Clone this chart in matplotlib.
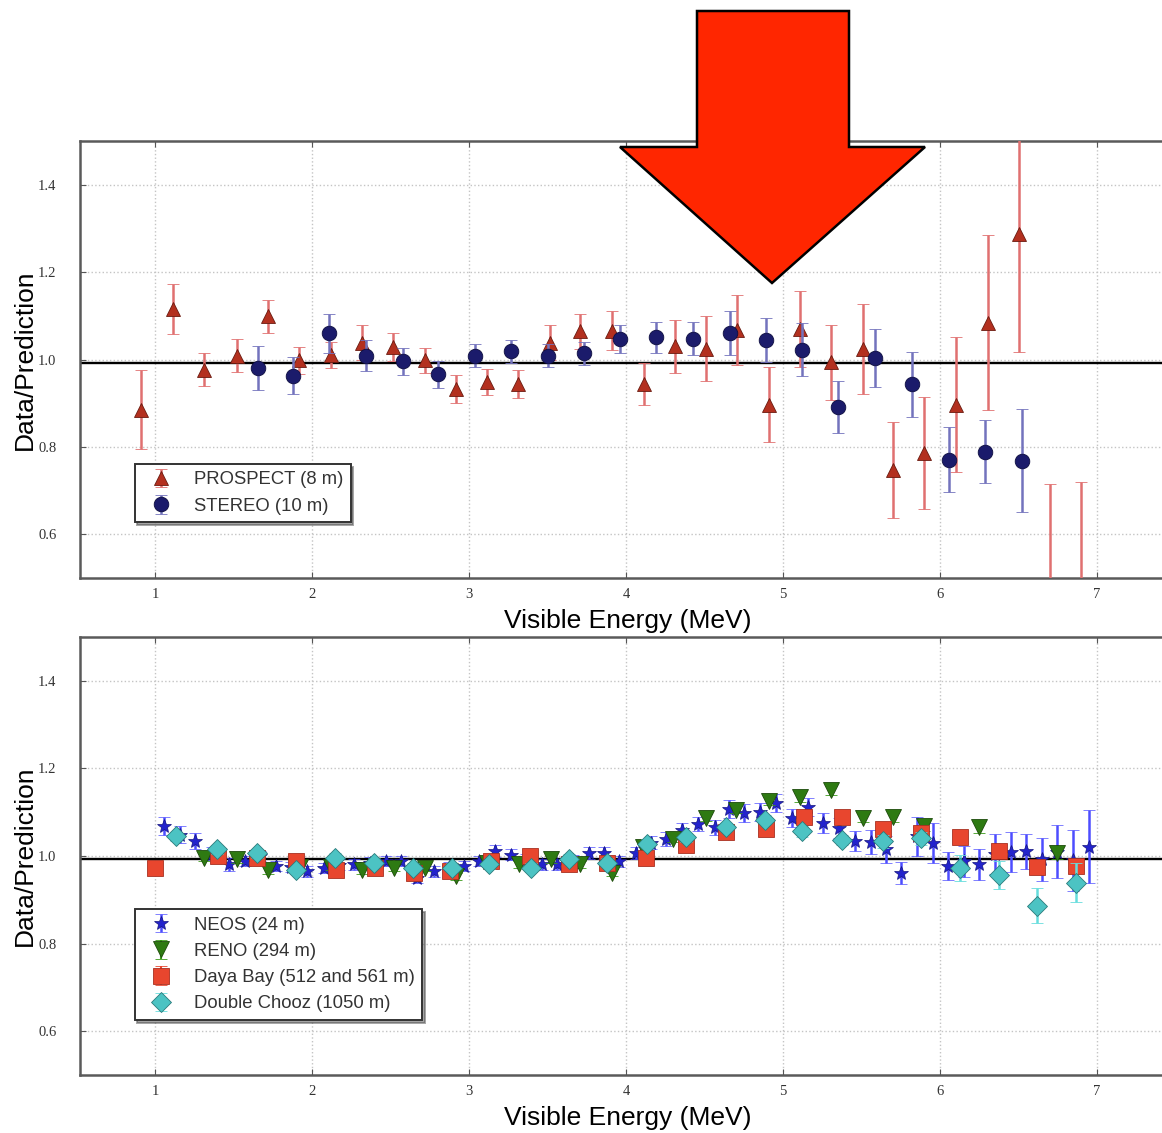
import matplotlib
matplotlib.use("Agg")
import matplotlib.pyplot as plt
from matplotlib import font_manager
from matplotlib.patches import Polygon

# --- reactor spectrum ratios, short baseline (top panel) ---
prospect_e = [0.91, 1.11, 1.31, 1.52, 1.72, 1.915, 2.12, 2.315, 2.517, 2.72,
              2.915, 3.116, 3.314, 3.514, 3.71, 3.91, 4.115, 4.311, 4.513, 4.71,
              4.91, 5.11, 5.306, 5.508, 5.705, 5.90, 6.103, 6.305, 6.507, 6.70, 6.90]
prospect_r = [0.885, 1.115, 0.977, 1.009, 1.099, 0.998, 1.011, 1.038, 1.029, 0.998,
              0.933, 0.948, 0.944, 1.038, 1.065, 1.066, 0.944, 1.030, 1.025, 1.067,
              0.897, 1.070, 0.994, 1.025, 0.748, 0.786, 0.897, 1.084, 1.288, 0.43, 0.42]
prospect_err = [0.09, 0.057, 0.037, 0.037, 0.038, 0.031, 0.03, 0.04, 0.032, 0.028,
                0.032, 0.03, 0.032, 0.04, 0.04, 0.044, 0.047, 0.06, 0.075, 0.08,
                0.085, 0.086, 0.086, 0.103, 0.11, 0.128, 0.155, 0.2, 0.27, 0.285, 0.30]

stereo_e = [1.654, 1.877, 2.107, 2.34, 2.578, 2.80, 3.035, 3.27, 3.50, 3.73,
            3.96, 4.19, 4.428, 4.662, 4.89, 5.125, 5.35, 5.59, 5.82, 6.056, 6.29, 6.524]
stereo_r = [0.981, 0.963, 1.060, 1.009, 0.996, 0.966, 1.009, 1.019, 1.009, 1.014,
            1.048, 1.051, 1.048, 1.060, 1.044, 1.023, 0.891, 1.004, 0.943, 0.771, 0.789, 0.769]
stereo_err = [0.05, 0.042, 0.044, 0.035, 0.031, 0.03, 0.026, 0.026, 0.026, 0.027,
              0.032, 0.035, 0.037, 0.05, 0.05, 0.06, 0.06, 0.066, 0.075, 0.075, 0.072, 0.118]

# --- longer baselines (bottom panel) ---
neos_e = [1.054, 1.16, 1.256, 1.36, 1.47, 1.575, 1.67, 1.767, 1.868, 1.968,
          2.075, 2.17, 2.266, 2.37, 2.468, 2.564, 2.67, 2.776, 2.87, 2.967,
          3.063, 3.165, 3.265, 3.36, 3.467, 3.563, 3.66, 3.765, 3.86, 3.956,
          4.062, 4.16, 4.258, 4.36, 4.462, 4.568, 4.657, 4.753, 4.855, 4.955,
          5.057, 5.163, 5.257, 5.355, 5.46, 5.56, 5.657, 5.752, 5.854, 5.954,
          6.05, 6.156, 6.252, 6.354, 6.454, 6.55, 6.652, 6.75, 6.852, 6.953]
neos_r = [1.068, 1.049, 1.034, 1.005, 0.981, 0.988, 1.0, 0.977, 0.975, 0.965,
          0.973, 0.98, 0.981, 0.985, 0.988, 0.988, 0.95, 0.965, 0.975, 0.977,
          0.988, 1.011, 1.003, 0.992, 0.981, 0.981, 0.99, 1.007, 1.007, 0.988,
          1.007, 1.03, 1.038, 1.06, 1.072, 1.066, 1.107, 1.098, 1.10, 1.121,
          1.087, 1.112, 1.075, 1.064, 1.034, 1.032, 1.015, 0.962, 1.045, 1.03,
          0.977, 0.988, 0.981, 1.005, 1.009, 1.011, 0.992, 1.01, 0.99, 1.021]
neos_err = [0.021, 0.02, 0.018, 0.015, 0.015, 0.012, 0.012, 0.012, 0.012, 0.012,
            0.012, 0.012, 0.012, 0.012, 0.012, 0.012, 0.012, 0.012, 0.012, 0.012,
            0.012, 0.014, 0.012, 0.012, 0.012, 0.012, 0.012, 0.013, 0.013, 0.013,
            0.014, 0.015, 0.016, 0.016, 0.016, 0.017, 0.02, 0.02, 0.02, 0.02,
            0.02, 0.021, 0.022, 0.022, 0.023, 0.028, 0.03, 0.025, 0.045, 0.045,
            0.032, 0.035, 0.035, 0.045, 0.045, 0.04, 0.05, 0.06, 0.07, 0.083]

reno_e = [1.31, 1.52, 1.72, 1.92, 2.12, 2.315, 2.52, 2.72, 2.915, 3.115,
          3.318, 3.52, 3.71, 3.91, 4.11, 4.30, 4.51, 4.70, 4.91, 5.11,
          5.306, 5.508, 5.70, 5.90, 6.25, 6.75]
reno_r = [0.996, 0.992, 0.968, 0.975, 0.975, 0.968, 0.973, 0.973, 0.954, 0.985,
          0.981, 0.992, 0.981, 0.962, 1.02, 1.039, 1.087, 1.106, 1.125, 1.134,
          1.15, 1.087, 1.09, 1.068, 1.067, 1.007]
reno_err = [0.008, 0.008, 0.008, 0.008, 0.008, 0.008, 0.008, 0.008, 0.008, 0.008,
            0.008, 0.008, 0.008, 0.008, 0.008, 0.008, 0.008, 0.009, 0.009, 0.01,
            0.01, 0.01, 0.012, 0.012, 0.015, 0.015]

dayabay_e = [1.00, 1.40, 1.65, 1.90, 2.15, 2.40, 2.65, 2.88, 3.14, 3.39,
             3.64, 3.88, 4.13, 4.385, 4.636, 4.89, 5.136, 5.38, 5.635, 5.88,
             6.13, 6.38, 6.62, 6.87]
dayabay_r = [0.972, 1.0, 0.995, 0.988, 0.969, 0.973, 0.962, 0.965, 0.988, 1.0,
             0.981, 0.985, 0.996, 1.024, 1.054, 1.062, 1.088, 1.09, 1.062, 1.053,
             1.043, 1.011, 0.975, 0.977]
dayabay_err = [0.006] * 24

dc_e = [1.13, 1.394, 1.65, 1.894, 2.145, 2.394, 2.64, 2.89, 3.127, 3.393,
        3.637, 3.88, 4.136, 4.385, 4.636, 4.887, 5.125, 5.38, 5.635, 5.88,
        6.13, 6.38, 6.62, 6.87]
dc_r = [1.045, 1.015, 1.006, 0.968, 0.996, 0.985, 0.973, 0.973, 0.981, 0.973,
        0.994, 0.985, 1.028, 1.043, 1.066, 1.083, 1.056, 1.036, 1.034, 1.040,
        0.973, 0.956, 0.886, 0.939]
dc_err = [0.01, 0.01, 0.01, 0.01, 0.01, 0.01, 0.01, 0.01, 0.01, 0.01,
          0.01, 0.01, 0.01, 0.01, 0.01, 0.01, 0.012, 0.012, 0.015, 0.015,
          0.03, 0.032, 0.04, 0.045]

y_ticks = [0.6, 0.8, 1.0, 1.2, 1.4]
x_ticks = [1, 2, 3, 4, 5, 6, 7]

# narrow sans if we have it, plain Liberation otherwise
installed = {f.name for f in font_manager.fontManager.ttflist}
label_font = "Liberation Sans Narrow" if "Liberation Sans Narrow" in installed else "Liberation Sans"
label_size = 23 if label_font == "Liberation Sans Narrow" else 19
legend_size = 16 if label_font == "Liberation Sans Narrow" else 13.3


def style_axes(ax):
    ax.set_xlim(0.52, 7.5)
    ax.set_ylim(0.5, 1.5)
    ax.set_xticks(x_ticks)
    ax.set_yticks(y_ticks)
    ax.set_yticklabels(["%.1f" % v for v in y_ticks])
    ax.grid(True, color="#c4c4c4", linestyle=":", linewidth=1.0)
    ax.tick_params(direction="in", length=4, color="#555555", top=True, right=True,
                   labelsize=10.5)
    ax.tick_params(axis="y", pad=17)
    ax.tick_params(axis="x", pad=7)
    for lab in ax.get_xticklabels() + ax.get_yticklabels():
        lab.set_family("Liberation Serif")
        lab.set_color("#333333")
    for sp in ax.spines.values():
        sp.set_color("#5a5a5a")
        sp.set_linewidth(1.8)
    ax.axhline(0.993, color="black", linewidth=1.7, zorder=2)
    ax.set_xlabel("Visible Energy (MeV)", family=label_font, fontsize=label_size, labelpad=6)
    ax.set_ylabel("Data/Prediction", family=label_font, fontsize=label_size, labelpad=1)


def make_legend(ax, y0):
    leg = ax.legend(loc="lower left", bbox_to_anchor=(0.05, y0), borderaxespad=0,
                    numpoints=1, fancybox=False, shadow=True,
                    prop={"family": label_font, "size": legend_size})
    leg.get_frame().set_edgecolor("#333333")
    leg.get_frame().set_linewidth(1.4)
    for t in leg.get_texts():
        t.set_color("#333333")
    return leg


fig = plt.figure(figsize=(11.62, 11.33), dpi=100)
ax1 = fig.add_axes([0.0688, 0.4898, 0.9425, 0.3857])
ax2 = fig.add_axes([0.0688, 0.0512, 0.9425, 0.3866])

style_axes(ax1)
style_axes(ax2)

ax1.errorbar(prospect_e, prospect_r, yerr=prospect_err, fmt="^", color="#b3301f",
             markersize=10, markeredgecolor="#6a1a10", markeredgewidth=0.6,
             ecolor="#e07070", elinewidth=1.8, capsize=4, capthick=1.5,
             label="PROSPECT (8 m)", zorder=3)
ax1.errorbar(stereo_e, stereo_r, yerr=stereo_err, fmt="o", color="#1b1b6b",
             markersize=10.5, markeredgecolor="#0d0d40", markeredgewidth=0.6,
             ecolor="#7373bd", elinewidth=1.8, capsize=4, capthick=1.5,
             label="STEREO (10 m)", zorder=4)
make_legend(ax1, 0.128)

ax2.errorbar(neos_e, neos_r, yerr=neos_err, fmt="*", color="#2323cc",
             markersize=10, markeredgecolor="#151580", markeredgewidth=0.5,
             ecolor="#4d4dff", elinewidth=1.8, capsize=4, capthick=1.5,
             label="NEOS (24 m)", zorder=3)
ax2.errorbar(reno_e, reno_r, yerr=reno_err, fmt="v", color="#2e7a12",
             markersize=11, markeredgecolor="#1c4a0a", markeredgewidth=0.6,
             ecolor="#3a9a1a", elinewidth=1.5, capsize=4, capthick=1.5,
             label="RENO (294 m)", zorder=4)
ax2.errorbar(dayabay_e, dayabay_r, yerr=dayabay_err, fmt="s", color="#e8462e",
             markersize=11, markeredgecolor="#a83020", markeredgewidth=0.6,
             ecolor="#e8462e", elinewidth=1.5, capsize=4, capthick=1.5,
             label="Daya Bay (512 and 561 m)", zorder=5)
ax2.errorbar(dc_e, dc_r, yerr=dc_err, fmt="D", color="#4cc3c3",
             markersize=10, markeredgecolor="#2a7a7a", markeredgewidth=0.6,
             ecolor="#66dddd", elinewidth=1.8, capsize=4, capthick=1.5,
             label="Double Chooz (1050 m)", zorder=6)
make_legend(ax2, 0.126)

# big red pointer over the top panel (figure pixel coordinates)
W, H = 1162.0, 1133.0
arrow_px = [(697, 11), (849, 11), (849, 147), (925, 147), (772, 283),
            (620, 147), (697, 147)]
arrow = Polygon([(x / W, 1 - y / H) for x, y in arrow_px], closed=True,
                transform=fig.transFigure, facecolor="#ff2600",
                edgecolor="black", linewidth=1.8, zorder=10)
fig.patches.append(arrow)

fig.savefig("out.png", dpi=100, facecolor="white")
